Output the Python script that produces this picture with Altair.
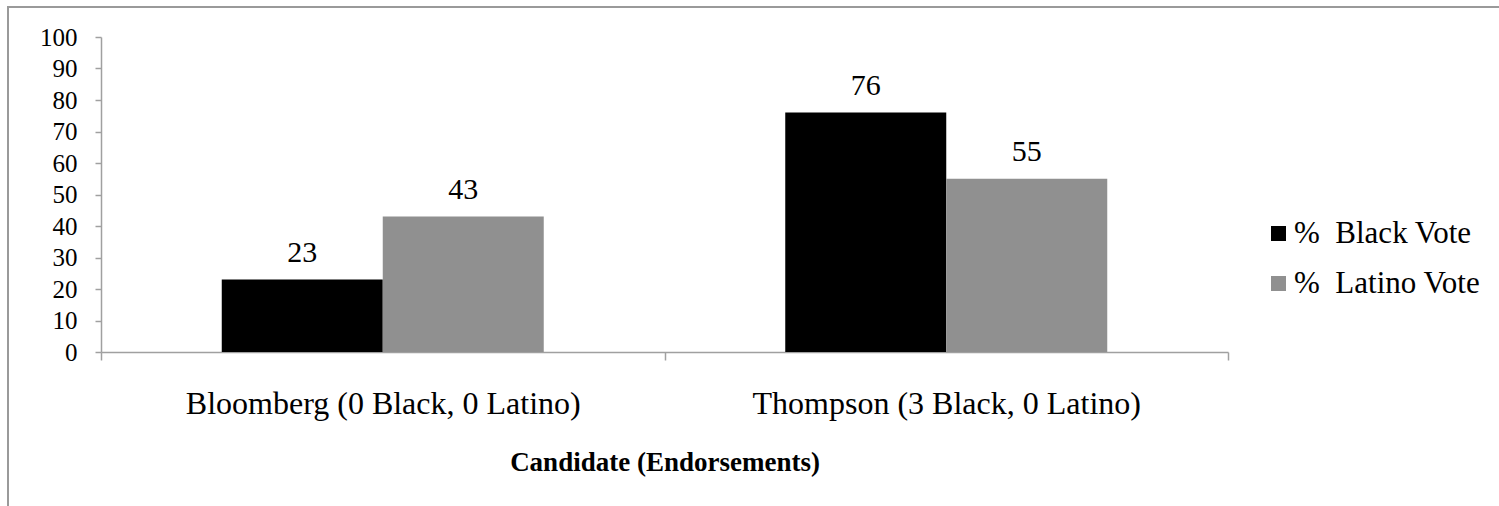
import altair as alt
import pandas as pd

# Vote share by candidate, split by group
candidates = ["Bloomberg (0 Black, 0 Latino)", "Thompson (3 Black, 0 Latino)"]
series = ["%\u00a0 Black Vote", "%\u00a0 Latino Vote"]
black_vote = [23, 76]
latino_vote = [43, 55]
series_colors = ["#000000", "#909090"]
y_ticks = [0, 10, 20, 30, 40, 50, 60, 70, 80, 90, 100]

rows = []
for i, cand in enumerate(candidates):
    rows.append({"Candidate": cand, "Series": series[0], "Value": black_vote[i]})
    rows.append({"Candidate": cand, "Series": series[1], "Value": latino_vote[i]})
df = pd.DataFrame(rows)

FONT = "Liberation Serif"
AXIS_GRAY = "#a0a0a0"
W, H = 1127, 315

x_enc = alt.X(
    "Candidate:N",
    sort=candidates,
    scale=alt.Scale(paddingInner=0, paddingOuter=0),
    axis=alt.Axis(
        title="Candidate (Endorsements)",
        titleFont=FONT,
        titleFontSize=27,
        titleFontWeight="bold",
        titleColor="#000000",
        titleBaseline="alphabetic",
        titleY=118,
        labelFont=FONT,
        labelFontSize=32,
        labelColor="#000000",
        labelAngle=0,
        labelBaseline="alphabetic",
        labelPadding=53,
        labelLimit=0,
        labelOverlap=False,
        tickBand="extent",
        tickSize=8,
        tickColor=AXIS_GRAY,
        tickWidth=1.5,
        domainColor=AXIS_GRAY,
        domainWidth=1.5,
    ),
)
xoff_enc = alt.XOffset(
    "Series:N", sort=series, scale=alt.Scale(paddingOuter=0.75, paddingInner=0)
)
y_enc = alt.Y(
    "Value:Q",
    scale=alt.Scale(domain=[0, 100], nice=False),
    axis=alt.Axis(
        title=None,
        values=y_ticks,
        tickCount=11,
        grid=False,
        labelFont=FONT,
        labelFontSize=25,
        labelColor="#000000",
        labelPadding=18,
        labelOverlap=False,
        labelFlush=False,
        tickSize=6,
        tickColor=AXIS_GRAY,
        tickWidth=1.5,
        domainColor=AXIS_GRAY,
        domainWidth=1.5,
    ),
)

bars = alt.Chart(df).mark_bar().encode(
    x=x_enc,
    xOffset=xoff_enc,
    y=y_enc,
    color=alt.Color(
        "Series:N",
        sort=series,
        scale=alt.Scale(domain=series, range=series_colors),
        legend=alt.Legend(
            title=None,
            orient="none",
            legendX=1162,
            legendY=181,
            symbolType="square",
            symbolSize=225,
            symbolStrokeWidth=0,
            labelFont=FONT,
            labelFontSize=31,
            labelColor="#000000",
            labelOffset=0,
            labelLimit=0,
            rowPadding=18,
        ),
    ),
)

labels = alt.Chart(df).mark_text(
    font=FONT, fontSize=30, color="#000000", baseline="alphabetic", dy=-18
).encode(
    x=x_enc,
    xOffset=xoff_enc,
    y=y_enc,
    text="Value:Q",
)

# Outer chart frame
frame = alt.Chart(df).mark_rect(
    fill=None, stroke="#9a9a9a", strokeWidth=2
).encode(
    x=alt.value(-93), x2=alt.value(1500), y=alt.value(-30), y2=alt.value(300 + H)
)

chart = (
    alt.layer(frame, bars, labels)
    .properties(
        width=W,
        height=H,
        autosize=alt.AutoSizeParams(type="none"),
        padding={"left": 101, "top": 37, "right": 271, "bottom": 154},
        background="#ffffff",
    )
    .configure_view(stroke=None)
)

chart.save("out.html", embed_options={"renderer": "svg", "actions": False})
